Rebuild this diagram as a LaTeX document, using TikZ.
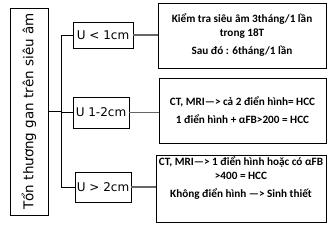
\documentclass[tikz,border=0pt]{standalone}
\usepackage{fontspec}
\setmainfont{Carlito}
\newfontfamily\ufont{DejaVu Sans}
\begin{document}
\begin{tikzpicture}[x=1pt, y=-1pt, line width=0.8pt,
    lbox/.style={draw, inner sep=0pt, font=\ufont\fontsize{12}{14}\selectfont},
    rbox/.style={draw, inner sep=0pt, align=center, font=\bfseries\fontsize{11.2}{14}\selectfont},
    link/.style={draw=black!60, line width=1.3pt}]

    \useasboundingbox (0,0) rectangle (336,231);

    %========================
    % Root box (rotated)
    %========================
    \node[lbox, rotate=90, minimum width=207, minimum height=38,
          font=\ufont\fontsize{13.5}{16}\selectfont] (root) at (29,111.5) {Tổn thương gan trên siêu âm};
    \coordinate (fork) at (61,111.5);
    \draw[line width=1.6pt] (root.south) -- (fork);

    %========================
    % Size classes
    %========================
    \node[lbox, minimum width=60, minimum height=26] (u1) at (103,35) {U < 1cm};
    \node[lbox, minimum width=56, minimum height=31] (u2) at (101,112.5) {U 1-2cm};
    \node[lbox, minimum width=56, minimum height=30] (u3) at (103,187) {U > 2cm};

    \draw (fork) |- (u1.west);
    \draw (fork) |- (u2.west);
    \draw (fork) |- (u3.west);

    %========================
    % Follow-up boxes
    %========================
    \node[rbox, minimum width=168, minimum height=65] (r1) at (242,35.5)
        {Kiểm tra siêu âm 3tháng/1 lần\\ trong 18T\\[4pt] Sau đó : 6tháng/1 lần};
    \node[rbox, minimum width=167, minimum height=65] (r2) at (242.5,110.5)
        {CT, MRI—> cả 2 điển hình= HCC\\[4pt] 1 điển hình + αFB>200 = HCC};
    \node[rbox, minimum width=170, minimum height=67] (r3) at (241,188.5) {};
    \node[rbox, draw=none] (r3text) at (241,178)
        {CT, MRI—> 1 điển hình hoặc có αFB\\ >400 = HCC\\[4pt] Không điển hình —> Sinh thiết};

    % Links
    \draw[link] (u1.east) -- (u1.east -| r1.west);
    \draw[link] (u2.east) -- (u2.east -| r2.west);
    \draw[link] (u3.east) -- (u3.east -| r3.west);

\end{tikzpicture}
\end{document}
